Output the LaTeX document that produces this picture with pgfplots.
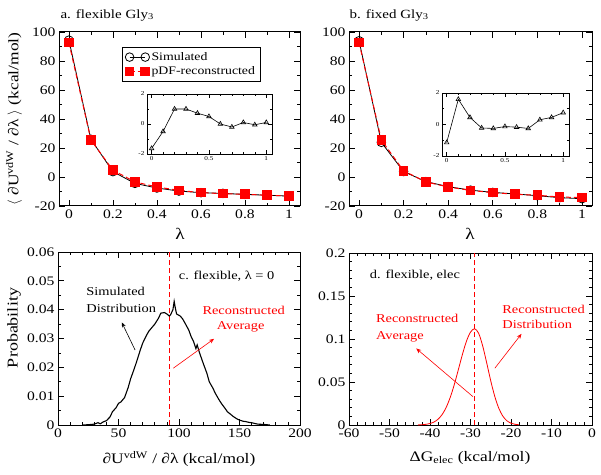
\documentclass[border=0pt]{standalone}
\usepackage{pgfplots}
\pgfplotsset{compat=1.18}
\usepackage{fontspec}
\setmainfont{Liberation Serif}[FakeStretch=1.2]
\usetikzlibrary{arrows.meta}
\definecolor{pure red}{RGB}{255,0,0}
\pgfplotsset{
  panel/.style={
    scale only axis,
    anchor=south west,
    /pgf/number format/assume math mode=true,
    tick label style={font=\fontsize{13}{15}\selectfont},
    major tick length=6pt, minor tick length=3pt,
    axis line style={line width=1pt},
    every tick/.style={black, line width=0.8pt},
    tick align=inside,
    xtick pos=both, ytick pos=both,
  },
  inset/.style={
    scale only axis,
    anchor=south west,
    /pgf/number format/assume math mode=true,
    tick label style={font=\fontsize{6}{7}\selectfont},
    major tick length=4pt, minor tick length=2pt,
    axis line style={line width=0.7pt},
    every tick/.style={black, line width=0.5pt},
    axis background/.style={fill=white},
    xmin=-0.04, xmax=1.05, ymin=-2, ymax=2,
    xtick={0,0.5,1}, ytick={-2,0,2}, minor x tick num=4, minor y tick num=1,
    xticklabel style={yshift=1pt}, yticklabel style={xshift=1pt},
  },
  sim/.style={black, line width=0.8pt, mark=o, mark size=4.3pt, mark options={solid}},
  rec/.style={pure red, line width=1pt, dash pattern=on 5pt off 3pt, mark=square*, mark size=4.3pt, mark options={solid}},
  tri/.style={black, line width=0.6pt, mark=triangle, mark size=2.6pt, mark options={solid}},
  vline/.style={draw=pure red, line width=1.5pt, dash pattern=on 5pt off 3pt},
}
\begin{document}
\begin{tikzpicture}
\useasboundingbox (0pt,0pt) rectangle (601pt,474pt);

% ---------------- panel a
\begin{axis}[panel, at={(59pt,268pt)}, width=241pt, height=174pt,
  xmin=-0.045, xmax=1.05, ymin=-20, ymax=100,
  xtick={0,0.2,0.4,0.6,0.8,1}, ytick={-20,0,20,40,60,80,100},
  minor x tick num=1, minor y tick num=1,
  legend style={at={(0.261,0.914)}, anchor=north west, draw=black, line width=0.8pt,
    font=\fontsize{11.5}{13}\selectfont, inner sep=3pt, row sep=1pt, cells={anchor=west}},
  legend image code/.code={\draw[#1] plot coordinates {(0cm,0cm)(0.55cm,0cm)};},
]
\addplot[sim] coordinates {(0,94.4)(0.1,26.0)(0.2,3.7)(0.3,-4.4)(0.4,-7.6)(0.5,-9.7)(0.6,-10.8)(0.7,-11.3)(0.8,-12.0)(0.9,-12.55)(1,-13.2)};
\addlegendentry{Simulated}
\addplot[rec] coordinates {(0,92.8)(0.1,25.5)(0.2,4.7)(0.3,-3.4)(0.4,-6.9)(0.5,-9.2)(0.6,-10.8)(0.7,-11.5)(0.8,-11.9)(0.9,-12.6)(1,-13.1)};
\addlegendentry{pDF-reconstructed}
\end{axis}

\begin{axis}[inset, at={(147pt,320pt)}, width=125pt, height=60pt]
\addplot[tri] coordinates {(0,-1.63)(0.1,-0.5)(0.2,1.0)(0.3,1.0)(0.4,0.72)(0.5,0.5)(0.6,0.0)(0.7,-0.2)(0.8,0.1)(0.9,-0.05)(1,0.1)};
\end{axis}

% ---------------- panel b
\begin{axis}[panel, at={(349pt,268pt)}, width=243pt, height=174pt,
  xmin=-0.045, xmax=1.045, ymin=-20, ymax=100,
  xtick={0,0.2,0.4,0.6,0.8,1}, ytick={-20,0,20,40,60,80,100},
  minor x tick num=1, minor y tick num=1,
]
\addplot[sim] coordinates {(0,93.95)(0.1,23.9)(0.2,3.75)(0.3,-3.18)(0.4,-6.65)(0.5,-9.07)(0.6,-10.63)(0.7,-11.65)(0.8,-12.9)(0.9,-14.25)(1,-14.95)};
\addplot[rec] coordinates {(0,92.8)(0.1,25.5)(0.2,4.2)(0.3,-3.4)(0.4,-6.9)(0.5,-9.2)(0.6,-10.8)(0.7,-11.9)(0.8,-12.6)(0.9,-13.8)(1,-14.2)};
\end{axis}

\begin{axis}[inset, at={(442pt,318pt)}, width=127pt, height=63pt]
\addplot[tri] coordinates {(0,-1.15)(0.1,1.6)(0.2,0.45)(0.3,-0.22)(0.4,-0.25)(0.5,-0.13)(0.6,-0.17)(0.7,-0.25)(0.8,0.3)(0.9,0.45)(1,0.75)};
\end{axis}

% ---------------- panel c
\begin{axis}[panel, at={(58pt,49pt)}, width=242pt, height=173pt,
  xmin=0, xmax=200, ymin=0, ymax=0.06,
  xtick={0,50,100,150,200}, ytick={0,0.01,0.02,0.03,0.04,0.05,0.06},
  minor x tick num=4, minor y tick num=1,
  scaled y ticks=false,
  yticklabel style={/pgf/number format/fixed, /pgf/number format/precision=2},
]
\addplot[vline] coordinates {(92,0)(92,0.06)};
\addplot[black, line width=1.1pt] coordinates {
(20,0)(25,0.0001)(30,0.0003)(33,0.0008)(35,0.0004)(37,0.0010)(40,0.0015)(43,0.0028)
(45,0.0046)(48,0.0060)(50,0.0075)(52,0.0080)(55,0.0095)(58,0.0130)(60,0.0160)
(63,0.0195)(65,0.0220)(68,0.0260)(70,0.0284)(73,0.0310)(75,0.0325)(78,0.0340)
(80,0.0350)(83,0.0370)(85,0.0388)(88,0.0390)(90,0.0385)(92,0.0378)(93,0.0382)
(95,0.0400)(96,0.0429)(97,0.0405)(98,0.0385)(101,0.0378)(103,0.0368)(105,0.0353)
(108,0.0330)(110,0.0307)(112,0.0290)(114,0.0265)(115,0.0278)(117,0.0250)
(120,0.0214)(123,0.0180)(125,0.0150)(128,0.0128)(130,0.0110)(133,0.0088)
(135,0.0075)(138,0.0058)(140,0.0046)(143,0.0036)(145,0.0029)(148,0.0021)
(150,0.0017)(153,0.0013)(155,0.0012)(158,0.0009)(160,0.0008)(163,0.0005)
(165,0.0003)(170,0.0002)(175,0)};
\node[anchor=west, font=\fontsize{12}{14}\selectfont] at (axis cs:20.6,0.0463) {Simulated};
\node[anchor=west, font=\fontsize{12}{14}\selectfont] at (axis cs:20.6,0.0403) {Distribution};
\node[anchor=west, font=\fontsize{12}{14}\selectfont] at (axis cs:97,0.0515) {c. flexible, λ = 0};
\node[anchor=west, text=pure red, font=\fontsize{12}{14}\selectfont] at (axis cs:116.5,0.0396) {Reconstructed};
\node[anchor=west, text=pure red, font=\fontsize{12}{14}\selectfont] at (axis cs:128.3,0.0342) {Average};
\draw[black, line width=0.6pt, -{Stealth[length=5pt,width=4pt]}] (axis cs:63.7,0.026) -- (axis cs:52.7,0.0356);
\draw[pure red, line width=0.6pt, -{Stealth[length=5pt,width=4pt]}] (axis cs:95.3,0.0197) -- (axis cs:129,0.0299);
\end{axis}

% ---------------- panel d
\begin{axis}[panel, at={(349pt,49pt)}, width=243pt, height=172pt,
  xmin=-60, xmax=0, ymin=0, ymax=0.2,
  xtick={-60,-50,-40,-30,-20,-10,0}, ytick={0,0.05,0.1,0.15,0.2},
  minor x tick num=4, minor y tick num=4,
  scaled y ticks=false,
  yticklabel style={/pgf/number format/fixed, /pgf/number format/precision=2},
  ytick style={}, 
]
\addplot[pure red, line width=0.8pt, smooth] coordinates {
(-43,0.0001)(-42,0.0003)(-41,0.0008)(-40,0.0017)(-39,0.0035)(-38,0.0068)(-37,0.0122)
(-36,0.0205)(-35,0.0322)(-34,0.0471)(-33,0.0644)(-32,0.0820)(-31,0.0975)(-30,0.1080)
(-29,0.1120)(-28,0.1067)(-27,0.0921)(-26,0.0722)(-25,0.0513)(-24,0.0331)(-23,0.0193)
(-22,0.0102)(-21,0.0049)(-20,0.0021)(-19,0.0008)(-18,0.0003)};
\addplot[vline] coordinates {(-29,0)(-29,0.2)};
\node[anchor=west, font=\fontsize{12}{14}\selectfont] at (axis cs:-55.7,0.174) {d. flexible, elec};
\node[anchor=west, text=pure red, font=\fontsize{12}{14}\selectfont] at (axis cs:-54.2,0.124) {Reconstructed};
\node[anchor=west, text=pure red, font=\fontsize{12}{14}\selectfont] at (axis cs:-54.2,0.103) {Average};
\node[anchor=west, text=pure red, font=\fontsize{12}{14}\selectfont] at (axis cs:-23,0.135) {Reconstructed};
\node[anchor=west, text=pure red, font=\fontsize{12}{14}\selectfont] at (axis cs:-23,0.1165) {Distribution};
\draw[pure red, line width=0.6pt, -{Stealth[length=5pt,width=4pt]}] (axis cs:-29.4,0.033) -- (axis cs:-43.4,0.089);
\draw[pure red, line width=0.6pt, -{Stealth[length=5pt,width=4pt]}] (axis cs:-24,0.066) -- (axis cs:-17.4,0.106);
\end{axis}

% ---------------- outer labels
\node[anchor=west, font=\fontsize{12.5}{14}\selectfont] at (57pt,459pt) {a. flexible Gly\textsubscript{3}};
\node[anchor=west, font=\fontsize{12.5}{14}\selectfont] at (346pt,459pt) {b. fixed Gly\textsubscript{3}};
\node[rotate=90, font=\fontsize{14.5}{17}\selectfont] at (14pt,355pt) {$\langle$ ∂U\textsuperscript{vdW} / ∂λ $\rangle$ (kcal/mol)};
\node[rotate=90, font=\fontsize{15}{17}\selectfont] at (14pt,146pt) {Probability};
\node[font=\fontsize{16}{18}\selectfont] at (180pt,240pt) {λ};
\node[font=\fontsize{16}{18}\selectfont] at (470pt,240pt) {λ};
\node[font=\fontsize{14.5}{17}\selectfont] at (179pt,15pt) {∂U\textsuperscript{vdW} / ∂λ (kcal/mol)};
\node[font=\fontsize{14.5}{17}\selectfont] at (470pt,16pt) {ΔG\textsubscript{elec} (kcal/mol)};
\end{tikzpicture}
\end{document}
